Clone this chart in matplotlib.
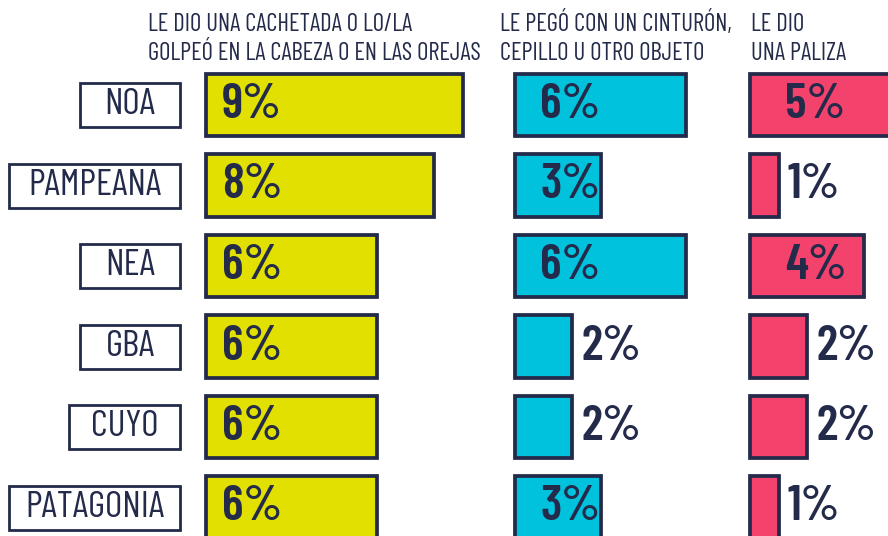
import matplotlib
matplotlib.use("Agg")
import matplotlib.pyplot as plt
from matplotlib.patches import Rectangle

# ---- data ----
regions = ["NOA", "PAMPEANA", "NEA", "GBA", "CUYO", "PATAGONIA"]
cachetada = [9, 8, 6, 6, 6, 6]
objeto = [6, 3, 6, 2, 2, 3]
paliza = [5, 1, 4, 2, 2, 1]
header_1 = ["LE DIO UNA CACHETADA O LO/LA", "GOLPEÓ EN LA CABEZA O EN LAS OREJAS"]
header_2 = ["LE PEGÓ CON UN CINTURÓN,", "CEPILLO U OTRO OBJETO"]
header_3 = ["LE DIO", "UNA PALIZA"]

# ---- style ----
NAVY = "#232a4a"
YELLOW = "#e1e000"
CYAN = "#00c2dd"
PINK = "#f3436c"
FONT = ["Barlow Condensed", "DejaVu Sans"]

W, H = 888, 536
fig = plt.figure(figsize=(W / 100, H / 100), dpi=100)
PX_PER_PCT = 28.5
ROW0, ROWSTEP = 105, 80.5
ylim = ((H - ROW0) / ROWSTEP, -ROW0 / ROWSTEP)

panels = [
    (206, 290, cachetada, YELLOW, 16, header_1, 148),
    (515, 230, objeto, CYAN, 25, header_2, 500),
    (750, 150, paliza, PINK, 35, header_3, 751),
]

for x0, wpx, vals, col, inoff, hdr, hx in panels:
    ax = fig.add_axes([x0 / W, 0, wpx / W, 1])
    ax.set_xlim(0, wpx / PX_PER_PCT)
    ax.set_ylim(*ylim)
    ax.axis("off")
    ys = list(range(len(regions)))
    ax.barh(ys, vals, height=0.78, color=col, edgecolor=NAVY,
            linewidth=2.7, clip_on=False)
    for y, v in zip(ys, vals):
        if v >= 3:
            xt = inoff / PX_PER_PCT
        else:
            xt = v + 9 / PX_PER_PCT
        ax.text(xt, y, f"{v}%", ha="left", va="center", fontsize=36,
                fontweight=600, color=NAVY, family=FONT, clip_on=False)
    fig.text(hx / W, 1 - 31 / H, hdr[0], ha="left", va="baseline",
             fontsize=17.8, color=NAVY, family=FONT)
    fig.text(hx / W, 1 - 60 / H, hdr[1], ha="left", va="baseline",
             fontsize=17.8, color=NAVY, family=FONT)

# ---- region label boxes ----
renderer = fig.canvas.get_renderer()
BOX_RIGHT, BOX_H, PAD, MINW, MAXW = 180, 44, 22, 100, 171
for i, name in enumerate(regions):
    yc = ROW0 + i * ROWSTEP
    t = fig.text(0, 1 - yc / H, name, ha="center", va="center",
                 fontsize=27, color=NAVY, family=FONT, zorder=3)
    tw = t.get_window_extent(renderer).width
    bw = min(max(tw + 2 * PAD, MINW), MAXW)
    left = BOX_RIGHT - bw
    t.set_x((left + bw / 2) / W)
    box = Rectangle((left / W, 1 - (yc + BOX_H / 2) / H), bw / W, BOX_H / H,
                    transform=fig.transFigure, facecolor="white",
                    edgecolor=NAVY, linewidth=2, zorder=2)
    fig.add_artist(box)

fig.savefig("out.png", dpi=100)
